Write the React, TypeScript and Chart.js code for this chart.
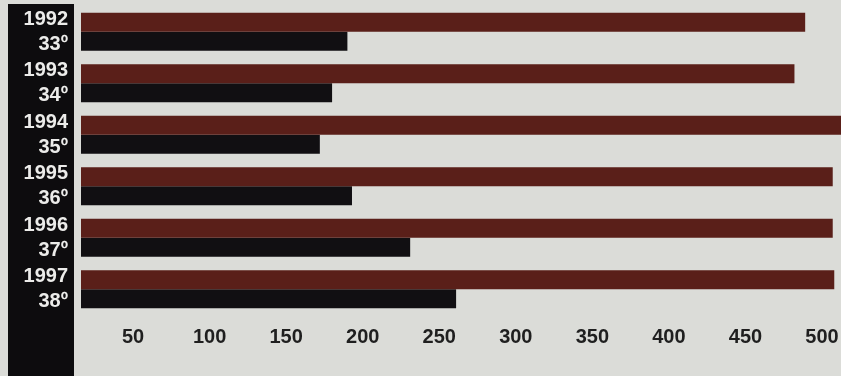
import React, { useEffect, useRef } from "react";
import { Chart, registerables } from "chart.js";

Chart.register(...registerables);

const years = ["1992", "1993", "1994", "1995", "1996", "1997"];
const ranks = ["33º", "34º", "35º", "36º", "37º", "38º"];
const upperValues = [489, 482, 530, 507, 507, 508];
const lowerValues = [190, 180, 172, 193, 231, 261];
const xTicks = [50, 100, 150, 200, 250, 300, 350, 400, 450, 500];

const FONT = "'Liberation Sans', Arial, sans-serif";
const BG = "#dbdcd8";

const sidePanel = {
  id: "sidePanel",
  beforeDraw(chart: any) {
    const ctx = chart.ctx;
    ctx.save();
    ctx.fillStyle = BG;
    ctx.fillRect(0, 0, chart.width, chart.height);
    ctx.fillStyle = "#0d0c0e";
    ctx.fillRect(8, 4, 66, chart.height - 4);
    ctx.restore();
  },
};

export default function App() {
  const ref = useRef<HTMLCanvasElement | null>(null);

  useEffect(() => {
    if (!ref.current) return;
    const chart = new Chart(ref.current, {
      type: "bar",
      data: {
        labels: years.map((y, i) => [y, ranks[i]]),
        datasets: [
          {
            label: "Upper",
            data: upperValues,
            backgroundColor: "#5a1f19",
            categoryPercentage: 0.74,
            barPercentage: 1,
          },
          {
            label: "Lower",
            data: lowerValues,
            backgroundColor: "#110f12",
            categoryPercentage: 0.74,
            barPercentage: 1,
          },
        ],
      },
      options: {
        indexAxis: "y",
        responsive: false,
        animation: false,
        layout: { padding: { top: 6, left: 0, right: 0, bottom: 0 } },
        plugins: { legend: { display: false }, tooltip: { enabled: false } },
        scales: {
          x: {
            type: "linear",
            min: 16,
            max: 512.4,
            grid: { display: false, drawTicks: false },
            border: { display: false },
            afterBuildTicks: (scale: any) => {
              scale.ticks = xTicks.map((v) => ({ value: v }));
            },
            afterFit: (scale: any) => {
              scale.height = 61;
              scale.paddingLeft = 0;
              scale.paddingRight = 0;
            },
            ticks: {
              color: "#1f1f1f",
              font: { family: FONT, size: 20, weight: "bold" },
              padding: 10,
              maxRotation: 0,
              autoSkip: false,
            },
          },
          y: {
            type: "category",
            grid: { display: false, drawTicks: false },
            border: { display: false },
            afterFit: (scale: any) => {
              scale.width = 81;
              scale.paddingTop = 0;
              scale.paddingBottom = 0;
            },
            ticks: {
              color: "#ececea",
              font: { family: FONT, size: 20, weight: "bold", lineHeight: 1.25 },
              padding: 13,
              autoSkip: false,
            },
          },
        },
      },
      plugins: [sidePanel],
    } as any);
    return () => chart.destroy();
  }, []);

  return (
    <div style={{ position: "fixed", left: 0, top: 0, width: 841, height: 376, background: BG }}>
      <canvas ref={ref} width={841} height={376} style={{ display: "block", width: 841, height: 376 }} />
    </div>
  );
}
